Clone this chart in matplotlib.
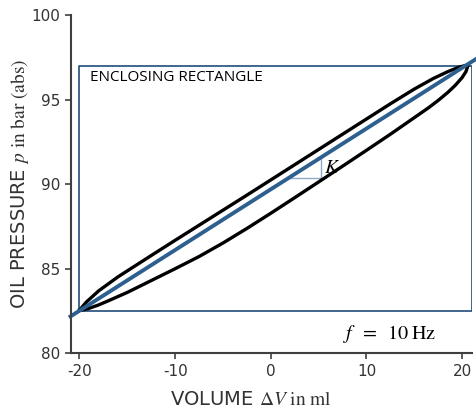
import numpy as np
import matplotlib
matplotlib.use('Agg')
import matplotlib.pyplot as plt

plt.rcParams['font.family'] = 'DejaVu Sans'
plt.rcParams['mathtext.fontset'] = 'stix'

# data
upper_x = [-20, -19.3, -18, -16, -12.5, -10, -7.5, -5, -2.5, 0, 2.5, 5, 7.5, 10, 12.5, 15, 17, 18.5, 19.7, 20.6]
upper_p = [82.55, 83.02, 83.69, 84.51, 85.78, 86.68, 87.57, 88.46, 89.35, 90.25, 91.15, 92.05, 92.95, 93.85, 94.75, 95.62, 96.25, 96.65, 96.92, 97.05]

lower_x = [-20, -19.5, -19, -18, -17, -15, -12.5, -10, -7.5, -5, -2.5, 0, 2.5, 5, 7.5, 10, 12.5, 15, 16.5, 17.5, 18.5, 19.3, 20.0, 20.4, 20.55, 20.6]
lower_p = [82.55, 82.58, 82.66, 82.86, 83.1, 83.6, 84.3, 85.0, 85.72, 86.52, 87.38, 88.28, 89.2, 90.13, 91.06, 92.0, 92.95, 93.93, 94.52, 94.95, 95.42, 95.85, 96.3, 96.65, 96.9, 97.05]

stiff_x = [-20.94, 21.6]
stiff_p = [82.18, 97.45]

rect_x = [-20, 21, 21, -20, -20]
rect_p = [82.5, 82.5, 97, 97, 82.5]

tri_x = [1.8, 5.2, 5.2]
tri_p = [90.35, 90.35, 91.55]

xticks = [-20, -10, 0, 10, 20]
yticks = [80, 85, 90, 95, 100]

fig = plt.figure(figsize=(4.77, 4.09), dpi=100)
ax = fig.add_axes([0.1478, 0.1362, 0.841, 0.8271])

ax.plot(rect_x, rect_p, color='#1f4e79', linewidth=1.2)
ax.plot(tri_x, tri_p, color='#8fa9c6', linewidth=1.0)
ax.plot(upper_x, upper_p, color='black', linewidth=2.4, solid_joinstyle='round')
ax.plot(lower_x, lower_p, color='black', linewidth=2.4, solid_joinstyle='round')
ax.plot(stiff_x, stiff_p, color='#2d5f8f', linewidth=2.8, clip_on=False)

ax.text(-18.85, 96.3, 'ENCLOSING RECTANGLE', family='Open Sans', fontsize=11, va='center', ha='left')
ax.text(5.6, 91.0, '$K$', fontsize=14, va='center', ha='left')
ax.text(7.5, 81.15, r'$f\;\;=\;\;10\;\mathrm{Hz}$', fontsize=14.5, va='center', ha='left')

ax.set_xlim(-20.94, 21.0)
ax.set_ylim(80, 100)
ax.set_xticks(xticks)
ax.set_yticks(yticks)
ax.set_xticklabels([str(t) for t in xticks])

for s in ['top', 'right']:
    ax.spines[s].set_visible(False)
for s in ['left', 'bottom']:
    ax.spines[s].set_color('#404040')
    ax.spines[s].set_linewidth(1.5)
ax.tick_params(direction='out', length=4, width=1.2, color='#404040', labelcolor='#333333', labelsize=11)

ax.set_xlabel(r'VOLUME $\Delta V\ \mathrm{in\ ml}$', fontsize=14, color='#333333')
ax.set_ylabel(r'OIL PRESSURE $p\ \mathrm{in\ bar\ (abs)}$', fontsize=14, color='#333333')
ax.xaxis.set_label_coords(0.45, -0.108)
ax.yaxis.set_label_coords(-0.098, 0.5)

plt.savefig('out.png', dpi=100)
